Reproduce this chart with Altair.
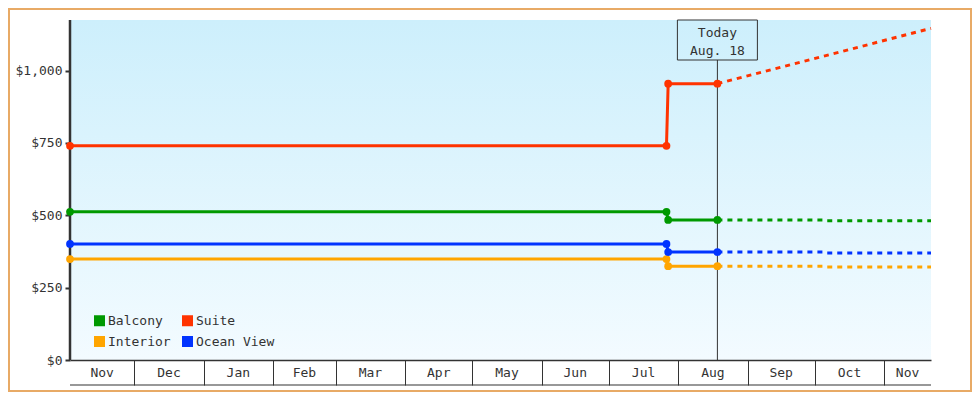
import altair as alt
import pandas as pd

# ---------------- data ----------------
series = ["Balcony", "Suite", "Interior", "Ocean View"]
series_colors = ["#009900", "#ff3300", "#ffa500", "#0033ff"]

hist_dates = ["2014-11-02T07:00:00", "2015-07-26T18:00:00", "2015-07-27T12:00:00", "2015-08-18T12:00:00"]
hist_balcony = [512, 512, 484, 484]
hist_suite = [740, 740, 955, 955]
hist_interior = [349, 349, 324, 324]
hist_ocean = [401, 401, 373, 373]

fcst_dates = ["2015-08-18T12:00:00", "2015-10-04T12:00:00", "2015-10-05T12:00:00", "2015-11-21T22:00:00"]
fcst_balcony = [484, 484, 481, 481]
fcst_interior = [324, 324, 321, 321]
fcst_ocean = [373, 373, 370, 370]
fcst_suite_dates = ["2015-08-18T12:00:00", "2015-11-21T22:00:00"]
fcst_suite = [955, 1146]

today_date = "2015-08-18T12:00:00"
today_text = ["Today", "Aug. 18"]

month_names = ["Nov", "Dec", "Jan", "Feb", "Mar", "Apr", "May", "Jun",
               "Jul", "Aug", "Sep", "Oct", "Nov"]
first_month = "2014-11-01"

y_ticks = [0, 250, 500, 750, 1000]
y_max = 1175

# ---------------- tables ----------------
hist_vals = {"Balcony": hist_balcony, "Suite": hist_suite,
             "Interior": hist_interior, "Ocean View": hist_ocean}
fcst_vals = {"Balcony": (fcst_dates, fcst_balcony), "Suite": (fcst_suite_dates, fcst_suite),
             "Interior": (fcst_dates, fcst_interior), "Ocean View": (fcst_dates, fcst_ocean)}

hist_rows = []
for s in series:
    for d, v in zip(hist_dates, hist_vals[s]):
        hist_rows.append({"date": d, "price": v, "cabin": s})
hist_df = pd.DataFrame(hist_rows)

fcst_rows = []
for s in series:
    ds, vs = fcst_vals[s]
    for d, v in zip(ds, vs):
        fcst_rows.append({"date": d, "price": v, "cabin": s})
fcst_df = pd.DataFrame(fcst_rows)

dom_start = pd.Timestamp(hist_dates[0])
dom_end = pd.Timestamp(fcst_dates[-1])
starts = pd.date_range(first_month, periods=len(month_names) + 1, freq="MS")
mid_rows = []
for i, name in enumerate(month_names):
    a = max(starts[i], dom_start)
    b = min(starts[i + 1], dom_end)
    mid = a + (b - a) / 2
    mid_rows.append({"date": mid.strftime("%Y-%m-%dT%H:%M:%S"), "month": name})
month_df = pd.DataFrame(mid_rows)

today_df = pd.DataFrame({"date": [today_date], "l1": [today_text[0]], "l2": [today_text[1]]})

# ---------------- styling ----------------
W, H = 861, 340
FONT = "DejaVu Sans Mono"
DARK = "#333333"

def dt(ts):
    t = pd.Timestamp(ts)
    return alt.DateTime(year=t.year, month=t.month, date=t.day, hours=t.hour, minutes=t.minute)

xscale = alt.Scale(domain=[dt(dom_start), dt(dom_end)], nice=False)
yscale = alt.Scale(domain=[0, y_max], nice=False, zero=True)
cscale = alt.Scale(domain=series, range=series_colors)

x_axis = alt.Axis(title=None, labels=False, grid=False,
                  tickCount=alt.TimeIntervalStep(interval="month", step=1),
                  tickSize=25, tickWidth=1, tickColor=DARK,
                  domainColor=DARK, domainWidth=1.5, zindex=1)
y_axis = alt.Axis(title=None, values=y_ticks, format="$,.0f", grid=False,
                  domain=False, tickSize=5, tickWidth=2, tickColor=DARK,
                  labelFont=FONT, labelFontSize=13, labelColor=DARK, labelPadding=3)

one = alt.Data(values=[{}])

bg = alt.Chart(one).mark_rect(
    color=alt.Gradient(gradient="linear",
                       stops=[alt.GradientStop(color="#cdeffc", offset=0),
                              alt.GradientStop(color="#f3fbff", offset=1)],
                       x1=0, x2=0, y1=0, y2=1)
).encode(x=alt.value(0), x2=alt.value(W), y=alt.value(0), y2=alt.value(H))

border = alt.Chart(one).mark_rect(fill=None, stroke="#e8aa66", strokeWidth=2).encode(
    x=alt.value(-61), x2=alt.value(W + 40), y=alt.value(-11), y2=alt.value(H + 31))

yline = alt.Chart(one).mark_rule(color=DARK, strokeWidth=2.5).encode(
    x=alt.value(0), y=alt.value(0), y2=alt.value(H))

bottom_line = alt.Chart(one).mark_rule(color=DARK, strokeWidth=1.2).encode(
    x=alt.value(0), x2=alt.value(W), y=alt.value(H + 25))

today_rule = alt.Chart(today_df).mark_rule(color=DARK, strokeWidth=1).encode(
    x=alt.X("date:T", scale=xscale, axis=x_axis), y=alt.value(40), y2=alt.value(H))

today_box = alt.Chart(today_df).mark_rect(fill=None, stroke=DARK, strokeWidth=1,
                                           xOffset=-40, x2Offset=40).encode(
    x="date:T", x2="date:T", y=alt.value(0), y2=alt.value(40))

today_t1 = alt.Chart(today_df).mark_text(font=FONT, fontSize=13, color=DARK,
                                          align="center", baseline="alphabetic").encode(
    x="date:T", y=alt.value(17), text="l1:N")
today_t2 = alt.Chart(today_df).mark_text(font=FONT, fontSize=13, color=DARK,
                                          align="center", baseline="alphabetic").encode(
    x="date:T", y=alt.value(35), text="l2:N")

hist_line = alt.Chart(hist_df).mark_line(strokeWidth=3).encode(
    x="date:T",
    y=alt.Y("price:Q", scale=yscale, axis=y_axis),
    color=alt.Color("cabin:N", scale=cscale, legend=None),
    detail="cabin:N")

fcst_line = alt.Chart(fcst_df).mark_line(strokeWidth=3, strokeDash=[5, 5]).encode(
    x="date:T", y="price:Q",
    color=alt.Color("cabin:N", scale=cscale, legend=None),
    detail="cabin:N")

pts = alt.Chart(hist_df).mark_circle(size=60, opacity=1).encode(
    x="date:T", y="price:Q",
    color=alt.Color("cabin:N", scale=cscale,
                    legend=alt.Legend(title=None, orient="none", legendX=23, legendY=294,
                                      values=series, direction="horizontal",
                                      columns=2, symbolType="square", symbolSize=121,
                                      symbolStrokeWidth=0, symbolOpacity=1,
                                      labelFont=FONT, labelFontSize=13, labelColor=DARK,
                                      labelOffset=2, columnPadding=10, rowPadding=7,
                                      padding=0)))

months = alt.Chart(month_df).mark_text(font=FONT, fontSize=13, color=DARK,
                                        align="center", baseline="middle").encode(
    x="date:T", y=alt.value(H + 13), text="month:N")

chart = alt.layer(
    bg, border, today_rule, today_box, today_t1, today_t2, yline, bottom_line,
    hist_line, fcst_line, pts, months
).resolve_legend(color="independent").properties(
    width=W, height=H,
    autosize=alt.AutoSizeParams(type="none"),
    padding={"left": 62, "top": 12, "right": 41, "bottom": 32},
    background="white"
).configure_view(stroke=None)

chart.save("out.html", embed_options={"renderer": "svg", "actions": False})
